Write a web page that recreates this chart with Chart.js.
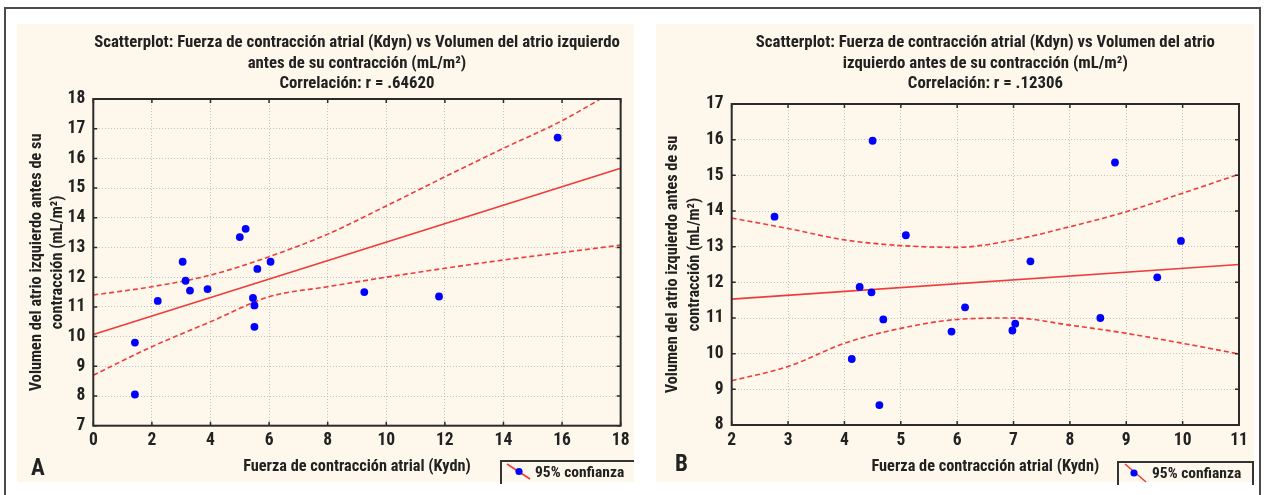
<!DOCTYPE html>
<html>
<head>
<meta charset="utf-8">
<script src="https://cdn.jsdelivr.net/npm/chart.js@4.4.0/dist/chart.umd.min.js"></script>
<style>
  body { margin: 0; width: 1264px; height: 495px; overflow: hidden; position: relative; background: #fff;
         font-family: 'Roboto Condensed', 'Liberation Sans', sans-serif; font-weight: bold; color: #222; }
  #marco { position: absolute; left: 4px; top: 7px; width: 1253px; height: 500px; border: 2px solid #4a4a4a; border-bottom: none; }
  .panel { position: absolute; top: 24px; height: 458px; background: #fdf8eb; }
  #panelA { left: 17px; width: 617px; }
  #panelB { left: 656px; width: 598px; }
  .letra { position: absolute; font-size: 23px; line-height: 23px; }
  .leyenda { position: absolute; height: 22px; border-top: 2px solid #333; border-left: 2px solid #333; font-size: 15.5px; }
  .leyenda svg { position: absolute; left: 0; top: 0; }
  .leyenda span { position: absolute; left: 33px; top: 0; line-height: 21px; white-space: nowrap; }
</style>
</head>
<body>
<div id="marco"></div>
<div class="panel" id="panelA"><canvas id="chartA"></canvas></div>
<div class="panel" id="panelB"><canvas id="chartB"></canvas></div>

<div class="letra" style="left:31px; top:456px;">A</div>
<div class="letra" style="left:675px; top:452px;">B</div>

<div class="leyenda" style="left:500px; top:460px; width:132px;">
  <svg width="30" height="22"><line x1="5" y1="2" x2="28" y2="17" stroke="#ef3b3b" stroke-width="1.6"/><circle cx="17" cy="9.5" r="3.6" fill="#0000ff"/></svg>
  <span>95% confianza</span>
</div>
<div class="leyenda" style="left:1117px; top:461px; width:133px; border-right:2px solid #333;">
  <svg width="30" height="22"><line x1="6" y1="1" x2="27" y2="19" stroke="#ef3b3b" stroke-width="1.6"/><circle cx="15" cy="10" r="3.6" fill="#0000ff"/></svg>
  <span>95% confianza</span>
</div>

<script>
// --- Panel A: r = .64620
var xA = [1.42, 1.42, 2.2, 3.05, 3.15, 3.3, 3.9, 5.0, 5.2, 5.45, 5.5, 5.5, 5.6, 6.05, 9.25, 11.8, 15.85];
var yA = [9.8, 8.05, 11.2, 12.52, 11.88, 11.55, 11.6, 13.35, 13.63, 11.3, 11.05, 10.33, 12.28, 12.52, 11.5, 11.35, 16.7];
var ajusteXA = [0, 18];
var ajusteYA = [10.07, 15.67];
var bandaXA = [0, 2, 4, 6, 8, 10, 12, 14, 16, 18];
var bandaSupA = [11.4, 11.68, 12.07, 12.69, 13.45, 14.4, 15.38, 16.34, 17.27, 18.4];
var bandaInfA = [8.7, 9.66, 10.5, 11.34, 11.68, 12.0, 12.3, 12.58, 12.83, 13.08];
var rangoXA = [0, 18, 2];
var rangoYA = [7, 18, 1];

// --- Panel B: r = .12306
var xB = [2.76, 4.5, 4.27, 4.48, 4.69, 4.13, 4.62, 5.09, 5.9, 6.14, 6.98, 7.03, 7.3, 8.54, 8.8, 9.55, 9.97];
var yB = [13.84, 15.97, 11.87, 11.72, 10.96, 9.85, 8.56, 13.32, 10.62, 11.3, 10.65, 10.84, 12.59, 11.0, 15.36, 12.14, 13.16];
var ajusteXB = [2, 11];
var ajusteYB = [11.53, 12.5];
var bandaXB = [2, 3, 4, 5, 6, 7, 8, 9, 10, 11];
var bandaSupB = [13.8, 13.51, 13.19, 13.03, 12.98, 13.19, 13.56, 13.98, 14.5, 15.03];
var bandaInfB = [9.24, 9.64, 10.29, 10.71, 10.96, 11.0, 10.8, 10.57, 10.29, 9.99];
var rangoXB = [2, 11, 1];
var rangoYB = [8, 17, 1];

var tituloA = ['Scatterplot: Fuerza de contracción atrial (Kdyn) vs Volumen del atrio izquierdo',
               'antes de su contracción (mL/m²)', 'Correlación: r = .64620'];
var tituloB = ['Scatterplot: Fuerza de contracción atrial (Kdyn) vs Volumen del atrio',
               'izquierdo antes de su contracción (mL/m²)', 'Correlación: r = .12306'];
var tituloX = 'Fuerza de contracción atrial (Kydn)';
var tituloY = ['Volumen del atrio izquierdo antes de su', 'contracción (mL/m²)'];

var FUENTE = "'Roboto Condensed', 'Liberation Sans', sans-serif";
var ROJO = '#ef3b3b';
var TEXTO = '#222222';

Chart.defaults.font.family = FUENTE;
Chart.defaults.font.weight = 'bold';
Chart.defaults.color = TEXTO;

function puntos(xs, ys) {
  var out = [];
  for (var i = 0; i < xs.length; i++) {
    out.push({ x: xs[i], y: ys[i] });
  }
  return out;
}

// marco del area de trazado + marcas de division hacia dentro
var marcoPlugin = {
  id: 'marco',
  afterDatasetsDraw: function (chart) {
    var ctx = chart.ctx, a = chart.chartArea;
    var sx = chart.scales.x, sy = chart.scales.y;
    ctx.save();
    ctx.strokeStyle = '#2b2b2b';
    ctx.lineWidth = 1.5;
    ctx.beginPath();
    sx.ticks.forEach(function (t) {
      var px = sx.getPixelForValue(t.value);
      ctx.moveTo(px, a.top); ctx.lineTo(px, a.top + 4);
      ctx.moveTo(px, a.bottom); ctx.lineTo(px, a.bottom - 4);
    });
    sy.ticks.forEach(function (t) {
      var py = sy.getPixelForValue(t.value);
      ctx.moveTo(a.left, py); ctx.lineTo(a.left + 4, py);
      ctx.moveTo(a.right, py); ctx.lineTo(a.right - 4, py);
    });
    ctx.stroke();
    ctx.lineWidth = 2;
    ctx.strokeRect(a.left, a.top, a.right - a.left, a.bottom - a.top);
    ctx.restore();
  }
};

function crearGrafico(id, p) {
  var lineaBase = { showLine: true, pointRadius: 0, borderColor: ROJO, borderWidth: 1.6, fill: false, order: 1 };
  return new Chart(document.getElementById(id), {
    type: 'scatter',
    data: {
      datasets: [
        { data: puntos(p.x, p.y), backgroundColor: '#0000ff', borderWidth: 0, pointRadius: 3.9, order: 0 },
        Object.assign({ data: puntos(p.ajX, p.ajY) }, lineaBase),
        Object.assign({ data: puntos(p.bX, p.sup), borderDash: [5, 3], cubicInterpolationMode: 'monotone' }, lineaBase),
        Object.assign({ data: puntos(p.bX, p.inf), borderDash: [5, 3], cubicInterpolationMode: 'monotone' }, lineaBase)
      ]
    },
    options: {
      animation: false,
      responsive: true,
      maintainAspectRatio: false,
      devicePixelRatio: 1,
      layout: { padding: { top: 4, right: p.padDer, left: 0, bottom: 0 } },
      plugins: {
        legend: { display: false },
        tooltip: { enabled: false },
        title: {
          display: true, text: p.titulo, fullSize: false, color: TEXTO,
          font: { size: 16.8, weight: 'bold', lineHeight: '20.5px' },
          padding: { top: 4.75, bottom: p.padTitulo }
        }
      },
      scales: {
        x: {
          type: 'linear', min: p.rx[0], max: p.rx[1],
          ticks: { stepSize: p.rx[2], color: TEXTO, padding: p.padTickX, font: { size: 17.5, weight: 'bold' } },
          grid: { color: '#c2c2c2', lineWidth: 1, drawTicks: false },
          border: { display: false, dash: [1, 2] },
          title: { display: true, text: tituloX, color: TEXTO, font: { size: 16.3, weight: 'bold' }, padding: { top: 0, bottom: 5 } },
          afterFit: function (s) { s.height = p.altoX; }
        },
        y: {
          type: 'linear', min: p.ry[0], max: p.ry[1],
          ticks: { stepSize: p.ry[2], color: TEXTO, padding: 8, font: { size: 17.5, weight: 'bold' } },
          grid: { color: '#c2c2c2', lineWidth: 1, drawTicks: false },
          border: { display: false, dash: [1, 2] },
          title: { display: true, text: tituloY, color: TEXTO, font: { size: 16.3, weight: 'bold', lineHeight: '21.6px' }, padding: { top: p.padTituloY, bottom: 0 } },
          afterFit: function (s) { s.width = p.anchoY; }
        }
      }
    },
    plugins: [marcoPlugin]
  });
}

crearGrafico('chartA', {
  x: xA, y: yA, ajX: ajusteXA, ajY: ajusteYA, bX: bandaXA, sup: bandaSupA, inf: bandaInfA,
  rx: rangoXA, ry: rangoYA, titulo: tituloA,
  padDer: 13.3, padTitulo: 4.75, padTickX: 4.5, altoX: 56.3, anchoY: 76.3, padTituloY: 8.9
});

crearGrafico('chartB', {
  x: xB, y: yB, ajX: ajusteXB, ajY: ajusteYB, bX: bandaXB, sup: bandaSupB, inf: bandaInfB,
  rx: rangoXB, ry: rangoYB, titulo: tituloB,
  padDer: 15, padTitulo: 9.75, padTickX: 5.2, altoX: 57, anchoY: 75.7, padTituloY: 6.5
});
</script>
</body>
</html>
